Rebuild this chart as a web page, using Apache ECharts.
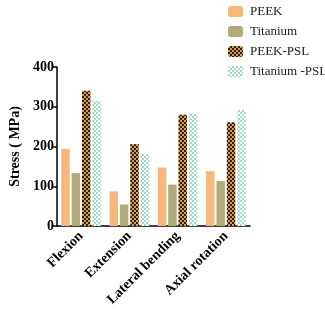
<!DOCTYPE html>
<html><head><meta charset="utf-8">
<script src="https://cdn.jsdelivr.net/npm/echarts@6/dist/echarts.min.js"></script>
<style>html,body{margin:0;padding:0;background:#fff}#c{width:325px;height:309px}</style>
</head><body><div id="c"></div>
<script>
const categories = ['Flexion', 'Extension', 'Lateral bending', 'Axial rotation'];
const seriesNames = ['PEEK', 'Titanium', 'PEEK-PSL', 'Titanium -PSL'];
const peek = [194, 87, 147, 138];
const titanium = [133, 54, 104, 113];
const peekPsl = [340, 206, 280, 261];
const titaniumPsl = [315, 181, 283, 292];
const yTicks = [0, 100, 200, 300, 400];

function pattern(bg, dot) {
  const c = document.createElement('canvas');
  c.width = 4; c.height = 4;
  const g = c.getContext('2d');
  g.fillStyle = bg; g.fillRect(0, 0, 4, 4);
  g.fillStyle = dot;
  g.fillRect(0, 0, 2, 2); g.fillRect(2, 2, 2, 2);
  return c;
}
const pPeekPsl = { image: pattern('#34200f', '#d49a5c'), repeat: 'repeat' };
const pTiPsl = { image: pattern('#ffffff', '#9fdcc8'), repeat: 'repeat' };

const colors = ['#f5b77c', '#b1aa7a', pPeekPsl, pTiPsl];
const data = [peek, titanium, peekPsl, titaniumPsl];
const font = '"Liberation Serif", "Times New Roman", serif';

const chart = echarts.init(document.getElementById('c'));
chart.setOption({
  animation: false,
  textStyle: { fontFamily: font },
  legend: {
    orient: 'vertical', left: 223, top: 0,
    itemWidth: 15, itemHeight: 11, itemGap: 7,
    textStyle: { fontFamily: font, fontSize: 13, color: '#222', padding: [0, 0, 0, 2] },
    data: seriesNames
  },
  grid: { left: 45, right: 75, top: 67, bottom: 82 },
  xAxis: {
    type: 'category', data: categories,
    axisLine: { lineStyle: { color: '#000', width: 1.5 } },
    axisTick: { show: false },
    axisLabel: { rotate: 45, interval: 0, fontFamily: font, fontWeight: 'bold', fontSize: 14, color: '#000', margin: 8 }
  },
  yAxis: {
    type: 'value', min: 0, max: 400, interval: 100,
    name: 'Stress ( MPa)', nameLocation: 'middle', nameGap: 30,
    nameTextStyle: { fontFamily: font, fontWeight: 'bold', fontSize: 14, color: '#000' },
    axisLine: { show: true, lineStyle: { color: '#000', width: 1.5 } },
    axisTick: { show: true, length: 5, lineStyle: { color: '#000', width: 1.5 } },
    splitLine: { show: false },
    axisLabel: { fontFamily: font, fontWeight: 'bold', fontSize: 14, color: '#000', margin: 3,
      formatter: v => yTicks.includes(v) ? String(v) : '' }
  },
  series: seriesNames.map((n, i) => ({
    name: n, type: 'bar', data: data[i],
    barGap: '22%', barCategoryGap: '18%',
    itemStyle: { color: colors[i] }
  }))
});
</script></body></html>
